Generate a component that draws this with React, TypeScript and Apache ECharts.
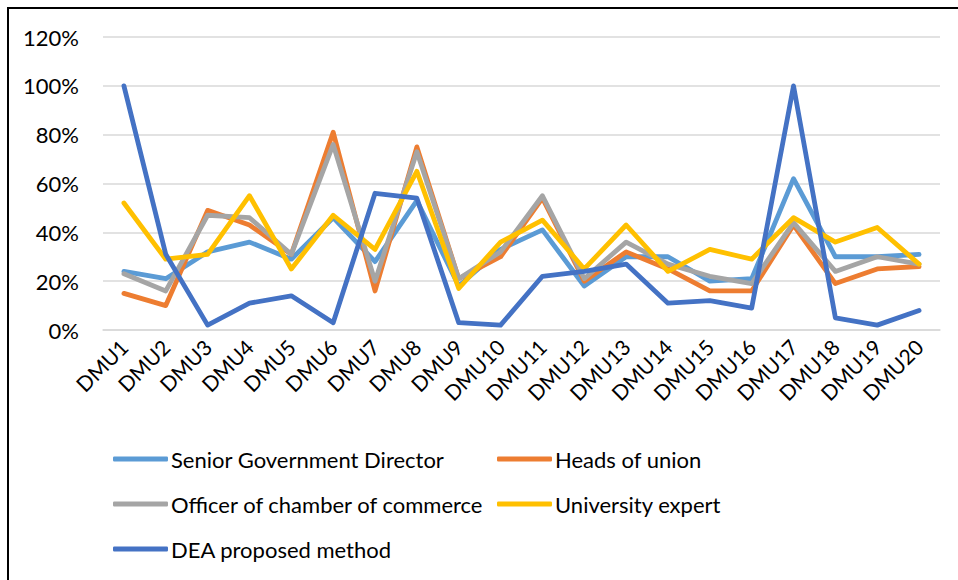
import React, { useEffect, useRef } from "react";
import * as echarts from "echarts";

const categories = [
  "DMU1", "DMU2", "DMU3", "DMU4", "DMU5", "DMU6", "DMU7", "DMU8", "DMU9", "DMU10",
  "DMU11", "DMU12", "DMU13", "DMU14", "DMU15", "DMU16", "DMU17", "DMU18", "DMU19", "DMU20",
];
const seniorGov = [24, 21, 32, 36, 29, 46, 28, 53, 18, 33, 41, 18, 30, 30, 20, 21, 62, 30, 30, 31];
const headsUnion = [15, 10, 49, 43, 31, 81, 16, 75, 21, 30, 54, 20, 32, 25, 16, 16, 43, 19, 25, 26];
const officerChamber = [23, 16, 47, 46, 31, 76, 20, 73, 21, 32, 55, 21, 36, 27, 22, 19, 44, 24, 30, 27];
const universityExpert = [52, 29, 31, 55, 25, 47, 33, 65, 17, 36, 45, 25, 43, 24, 33, 29, 46, 36, 42, 27];
const deaMethod = [100, 31, 2, 11, 14, 3, 56, 54, 3, 2, 22, 24, 27, 11, 12, 9, 100, 5, 2, 8];

const seriesNames = [
  "Senior Government Director",
  "Heads of union",
  "Officer of chamber of commerce",
  "University expert",
  "DEA proposed method",
];
const seriesData = [seniorGov, headsUnion, officerChamber, universityExpert, deaMethod];
const colors = ["#5B9BD5", "#ED7D31", "#A5A5A5", "#FFC000", "#4472C4"];

const FONT = "Lato, 'Open Sans', sans-serif";

export default function App() {
  const ref = useRef<HTMLDivElement>(null);
  useEffect(() => {
    document.body.style.margin = "0";
    if (!ref.current) return;
    const chart = echarts.init(ref.current, null, { renderer: "svg" });
    const legendPos = [
      { left: 113, top: 446 },
      { left: 497, top: 446 },
      { left: 113, top: 491 },
      { left: 497, top: 491 },
      { left: 113, top: 536 },
    ];
    chart.setOption({
      animation: false,
      backgroundColor: "#ffffff",
      textStyle: { fontFamily: FONT },
      graphic: [
        {
          type: "rect",
          shape: { x: 8, y: 8, width: 1200, height: 1000 },
          style: { fill: "none", stroke: "#000", lineWidth: 2 },
          silent: true,
        },
      ],
      grid: { left: 103, right: 18, top: 37, bottom: 250, containLabel: false },
      legend: seriesNames.map((n, i) => ({
        data: [n],
        left: legendPos[i].left,
        top: legendPos[i].top,
        padding: 0,
        icon: "roundRect",
        itemWidth: 55,
        itemHeight: 5,
        itemGap: 0,
        selectedMode: false,
        textStyle: { fontFamily: FONT, fontSize: 22, color: "#000", lineHeight: 26, padding: [0, 0, 0, -2] },
      })),
      xAxis: {
        type: "category",
        data: categories,
        boundaryGap: true,
        axisLine: { show: true, lineStyle: { color: "#D9D9D9", width: 1.5 } },
        axisTick: { show: false },
        axisLabel: {
          interval: 0,
          rotate: 45,
          margin: 13,
          fontFamily: FONT,
          fontSize: 21,
          color: "#000",
        },
      },
      yAxis: {
        type: "value",
        min: 0,
        max: 120,
        interval: 20,
        axisLine: { show: false },
        axisTick: { show: false },
        splitLine: { lineStyle: { color: "#D9D9D9", width: 1.5 } },
        axisLabel: {
          formatter: "{value}%",
          margin: 24,
          fontFamily: FONT,
          fontSize: 22,
          color: "#000",
        },
      },
      series: seriesNames.map((n, i) => ({
        name: n,
        type: "line",
        data: seriesData[i],
        symbol: "none",
        color: colors[i],
        lineStyle: { width: 4.8, color: colors[i], cap: "round", join: "round" },
        z: 2 + i,
      })),
    });
    return () => chart.dispose();
  }, []);
  return <div ref={ref} style={{ width: 958, height: 580 }} />;
}
